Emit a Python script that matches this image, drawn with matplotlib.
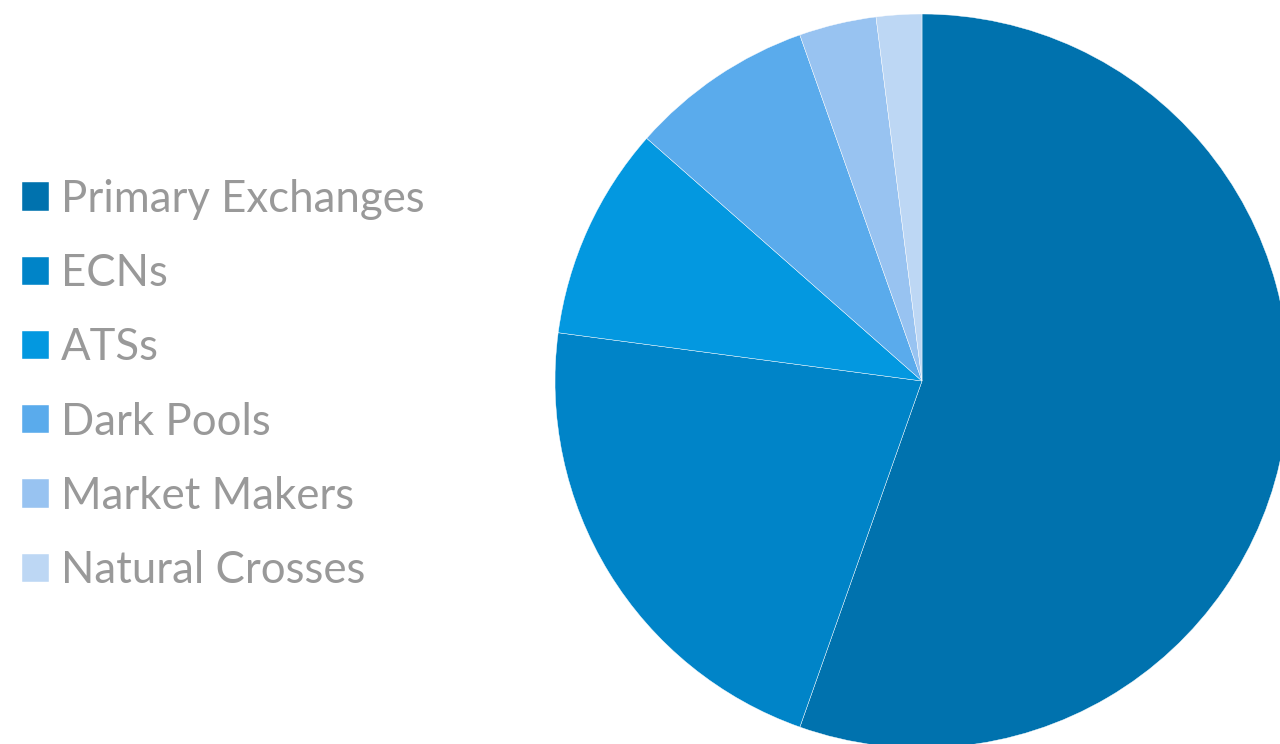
import matplotlib.pyplot as plt

# venue share data
venues = ['Primary Exchanges', 'ECNs', 'ATSs', 'Dark Pools', 'Market Makers', 'Natural Crosses']
shares = [55.4, 21.7, 9.4, 8.1, 3.4, 2.0]
colors = ['#0072AE', '#0084C8', '#0398E0', '#5AABEC', '#98C3F1', '#BDD7F4']

W, H = 1280, 744
fig = plt.figure(figsize=(W / 100, H / 100), dpi=100)

# pie center at (922, 381) px, radius 367 px -> axes box in figure fractions
cx, cy, r = 922, 381, 367
ax = fig.add_axes([(cx - r) / W, (H - cy - r) / H, 2 * r / W, 2 * r / H])
wedges, _ = ax.pie(shares, colors=colors, startangle=90, counterclock=False,
                   wedgeprops=dict(edgecolor='white', linewidth=0.3))
ax.set_xlim(-1, 1)
ax.set_ylim(-1, 1)
ax.axis('off')

fs = 31.5
leg = fig.legend(wedges, venues, loc='upper left', bbox_to_anchor=(0.0, 1 - 157 / H),
                 frameon=False, prop={'family': 'Lato', 'size': fs},
                 handlelength=0.62, handleheight=0.62, handletextpad=0.28,
                 labelspacing=0.76, borderaxespad=0, borderpad=0.5)
for t in leg.get_texts():
    t.set_color('#999999')

fig.savefig('out.png', dpi=100)
